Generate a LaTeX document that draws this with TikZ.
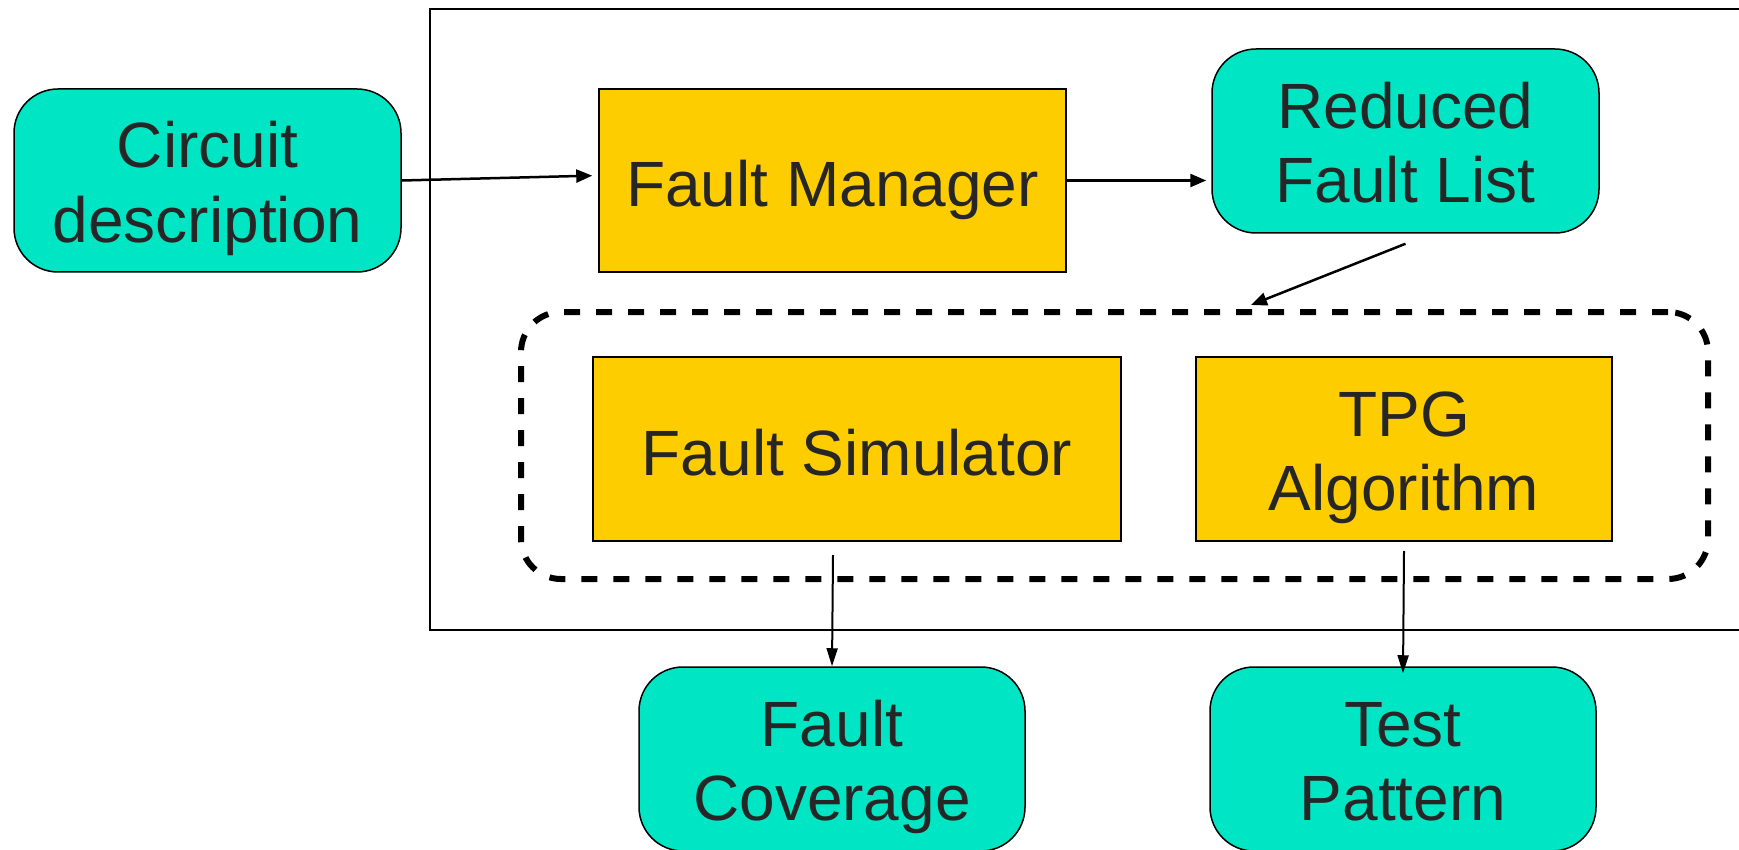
\documentclass[tikz,border=0pt]{standalone}
\usepackage{fontspec}
\setmainfont{Liberation Sans}
\usetikzlibrary{arrows.meta}
\definecolor{tealfill}{RGB}{0,230,196}
\definecolor{goldfill}{RGB}{253,205,0}
\definecolor{inkgray}{RGB}{38,38,38}
\begin{document}
\begin{tikzpicture}[x=1pt,y=-1pt,
  every node/.style={font=\fontsize{64}{74.5}\selectfont, text=inkgray, align=center, inner sep=0pt},
  oneline/.style={text height=52pt, text depth=0pt},
  twoline/.style={text height=123.5pt, text depth=0pt},
  databox/.style={draw=black, line width=1.5pt, fill=tealfill, rounded corners=44pt, twoline},
  procbox/.style={draw=black, line width=1.5pt, fill=goldfill},
  flow/.style={draw=black, line width=2.5pt, -{Triangle[length=16pt,width=13pt]}},
  thinflow/.style={draw=black, line width=2pt, -{Triangle[length=18pt,width=11pt]}}
]
\useasboundingbox (0,0) rectangle (1739,850);

% enclosing frame of the test generation system
\draw[line width=2pt] (1760,9) -- (430,9) -- (430,630) -- (1760,630);

% grouping of simulator and pattern generator
\node[draw=black, line width=6pt, dash pattern=on 16pt off 16pt, rounded corners=40pt,
      minimum width=1187pt, minimum height=267pt] (grp) at (1114.5,445.5) {};

% data items
\node[databox, minimum width=387pt, minimum height=183pt] (circ) at (207.5,180.5) {Circuit\\description};
\node[databox, minimum width=387pt, minimum height=184pt] (rfl) at (1405.5,141) {Reduced\\Fault List};
\node[databox, minimum width=386pt, minimum height=184pt] (fc) at (832,759) {Fault\\Coverage};
\node[databox, minimum width=386pt, minimum height=184pt] (tp) at (1403,759) {Test\\Pattern};

% processing blocks
\node[procbox, oneline, minimum width=467pt, minimum height=183pt] (fm) at (832.5,180.5) {Fault Manager};
\node[procbox, oneline, minimum width=528pt, minimum height=184pt] (fs) at (857,449) {Fault Simulator};
\node[procbox, twoline, minimum width=416pt, minimum height=184pt] (tpg) at (1404,449) {TPG\\Algorithm};

% connector end points
\coordinate (grpin) at (1251,305);
\coordinate (fsout) at (833,555);
\coordinate (tpgout) at (1404,551);

% connectors
\draw[flow, shorten >=6pt] (circ.east) -- ([yshift=5pt]fm.west);
\draw[flow, shorten >=5pt] (fm.east) -- (rfl.west |- fm.east);
\draw[flow] ([yshift=-10pt]rfl.south) -- (grpin);
\draw[thinflow] (fsout) -- (fc.north);
\draw[thinflow] (tpgout) -- ([yshift=-7pt]tp.north);
\end{tikzpicture}
\end{document}
